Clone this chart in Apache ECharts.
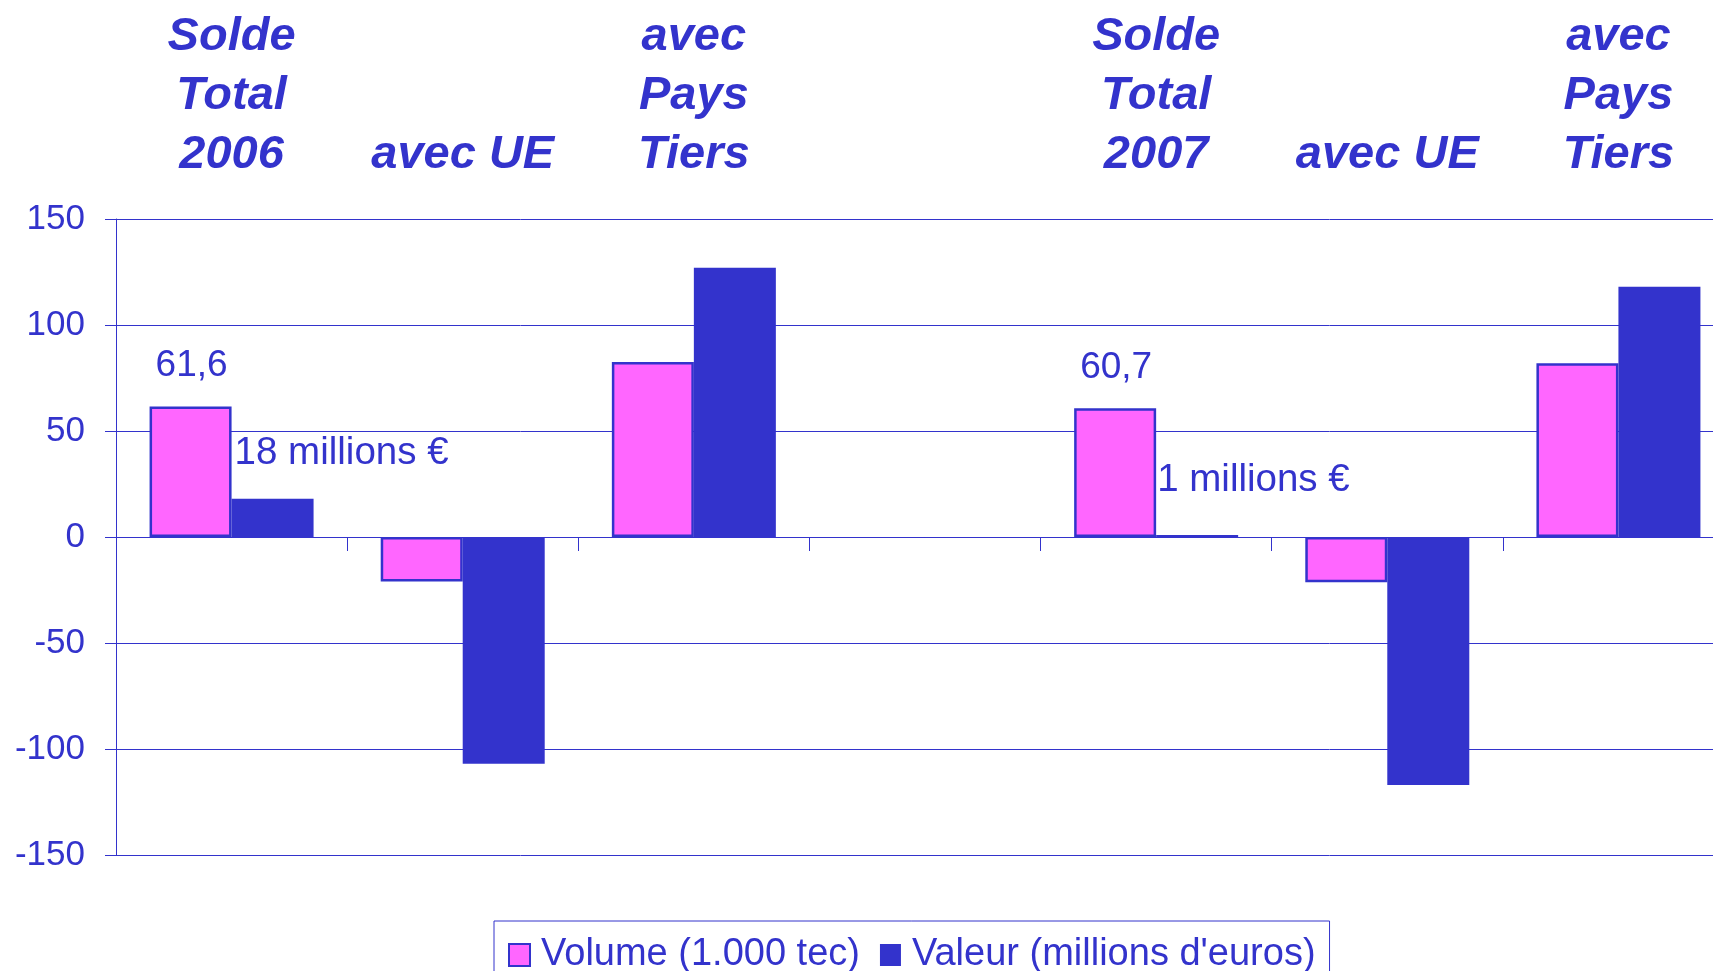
<!DOCTYPE html>
<html>
<head>
<meta charset="utf-8">
<style>
  html, body { margin: 0; padding: 0; overflow: hidden; background: #fff; }
  #chart { width: 1735px; height: 971px; }
</style>
<script src="https://cdn.jsdelivr.net/npm/echarts@6/dist/echarts.min.js"></script>
</head>
<body>
<div id="chart"></div>
<script>
// categories (the 4th one is an empty spacer column)
const categories = ['Solde\nTotal\n2006', 'avec UE', 'avec\nPays\nTiers', '', 'Solde\nTotal\n2007', 'avec UE', 'avec\nPays\nTiers'];
const volume = [61.6, -21.0, 82.6, null, 60.7, -21.3, 82.0];   // 1.000 tec
const valeur = [18, -107, 127, null, 1, -117, 118];            // millions d'euros
const yTicks = [-150, -100, -50, 0, 50, 100, 150];
const labelledIdx = [0, 4]; // "Solde Total" columns get value labels

const blue = '#3333CC';
const pink = '#FF66FF';
const font = "'Liberation Sans', Arial, sans-serif";

const chart = echarts.init(document.getElementById('chart'));

const volumeData = volume.map((v, i) => {
  if (!labelledIdx.includes(i)) return v;
  return {
    value: v,
    label: {
      show: true, position: 'top', distance: 0,
      verticalAlign: 'middle', offset: [1, -41],
      formatter: () => String(v).replace('.', ','),
    },
  };
});

const valeurOffsets = { 0: [-38, -45], 4: [-40, -54] };
const valeurData = valeur.map((v, i) => {
  if (!labelledIdx.includes(i)) return v;
  return {
    value: v,
    label: {
      show: true, position: 'top', distance: 0,
      align: 'left', verticalAlign: 'middle', offset: valeurOffsets[i],
      fontSize: 38.5,
      formatter: () => v + ' millions €',
    },
  };
});

chart.setOption({
  animation: false,
  textStyle: { fontFamily: font },
  grid: { left: 116, right: 1, top: 219, bottom: 116 },
  legend: {
    left: 494, top: 921,
    orient: 'horizontal',
    padding: [15, 14, 10, 14],
    itemGap: 20,
    itemWidth: 21,
    itemHeight: 22,
    borderColor: blue,
    borderWidth: 1,
    icon: 'rect',
    textStyle: { fontSize: 38, color: blue, fontFamily: font, padding: [0, 0, 0, 6] },
    data: ['Volume (1.000 tec)', 'Valeur (millions d\'euros)'],
  },
  xAxis: [
    {
      type: 'category',
      data: categories,
      position: 'bottom',
      axisLine: { onZero: true, lineStyle: { color: blue, width: 1 } },
      axisTick: { show: true, length: 14, lineStyle: { color: blue, width: 1 } },
      axisLabel: { show: false },
    },
    {
      type: 'category',
      data: categories,
      position: 'top',
      axisLine: { show: false, onZero: false },
      axisTick: { show: false },
      axisLabel: {
        interval: 0, margin: 34,
        color: blue, fontSize: 47, fontWeight: 'bold', fontStyle: 'italic',
        lineHeight: 59, fontFamily: font,
      },
    },
  ],
  yAxis: {
    type: 'value',
    min: yTicks[0], max: yTicks[yTicks.length - 1], interval: 50,
    axisLine: { show: true, lineStyle: { color: blue, width: 1 } },
    axisTick: { show: true, length: 11, lineStyle: { color: blue } },
    splitLine: { lineStyle: { color: blue, width: 1 } },
    axisLabel: { color: blue, fontSize: 35, margin: 31, fontFamily: font },
  },
  series: [
    {
      name: 'Volume (1.000 tec)',
      type: 'bar',
      data: volumeData,
      barWidth: 82,
      barGap: '0%',
      itemStyle: { color: pink, borderColor: blue, borderWidth: 2.5 },
      label: { color: blue, fontSize: 37, fontFamily: font },
    },
    {
      name: 'Valeur (millions d\'euros)',
      type: 'bar',
      data: valeurData,
      barWidth: 82,
      barGap: '0%',
      itemStyle: { color: blue },
      label: { color: blue, fontSize: 37, fontFamily: font },
    },
  ],
});
</script>
</body>
</html>
